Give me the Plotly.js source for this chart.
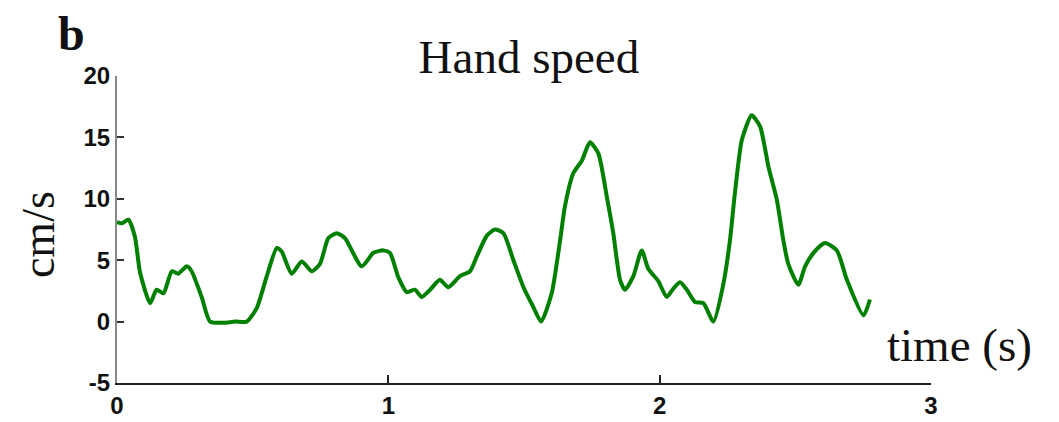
<!DOCTYPE html>
<html>
<head>
<meta charset="utf-8">
<script src="https://cdn.plot.ly/plotly-3.0.1.min.js"></script>
<style>
html,body{margin:0;padding:0;background:#fff;}
#chart{width:1059px;height:422px;}
</style>
</head>
<body>
<div id="chart"></div>
<script>
// Time (s) and hand speed (cm/s)
const timeS = [0.000,0.018,0.042,0.066,0.085,0.122,0.146,0.171,0.202,0.226,0.257,0.275,0.312,0.343,0.392,0.435,0.478,0.515,0.552,0.589,0.607,0.644,0.681,0.718,0.748,0.779,0.810,0.840,0.902,0.945,0.982,1.006,1.037,1.068,1.098,1.123,1.154,1.190,1.221,1.264,1.301,1.326,1.363,1.393,1.424,1.461,1.498,1.534,1.563,1.602,1.633,1.651,1.682,1.713,1.743,1.774,1.805,1.829,1.854,1.872,1.903,1.934,1.958,1.995,2.026,2.051,2.075,2.100,2.130,2.161,2.198,2.235,2.259,2.277,2.303,2.339,2.370,2.401,2.432,2.456,2.474,2.511,2.536,2.567,2.609,2.653,2.690,2.751,2.775];
const speed = [8.1,8.0,8.3,6.9,4.0,1.5,2.6,2.3,4.1,3.9,4.5,4.1,2.0,0.0,-0.1,0.0,0.0,1.1,3.7,6.0,5.7,3.9,4.9,4.1,4.7,6.8,7.2,6.8,4.5,5.6,5.8,5.6,3.6,2.4,2.6,2.0,2.6,3.4,2.8,3.7,4.1,5.3,7.0,7.5,7.2,5.0,2.8,1.2,0.0,2.3,6.6,9.4,12.1,13.1,14.6,13.7,10.2,7.2,3.4,2.6,3.7,5.8,4.3,3.3,2.0,2.7,3.2,2.6,1.6,1.5,0.0,3.1,6.6,10.4,14.8,16.8,15.9,12.6,9.9,6.6,4.7,3.0,4.5,5.6,6.4,5.8,3.4,0.5,1.8];
const xTicks = [0,1,2,3];
const yTicks = [-5,0,5,10,15,20];

const serif = 'Liberation Serif, Times New Roman, serif';
const sans = 'Liberation Sans, Arial, sans-serif';

const trace = {
  x: timeS, y: speed, type: 'scatter', mode: 'lines',
  line: {color: 'rgb(0,128,0)', width: 4, shape: 'spline', smoothing: 0.6},
  hoverinfo: 'skip'
};

const layout = {
  width: 1059, height: 422,
  margin: {l: 117, r: 128, t: 76, b: 39},
  paper_bgcolor: '#fff', plot_bgcolor: '#fff',
  showlegend: false,
  title: {
    text: 'Hand speed',
    font: {family: serif, size: 47, color: '#111'},
    xref: 'paper', x: 0.506, xanchor: 'center',
    yref: 'container', y: 0.865, yanchor: 'middle'
  },
  xaxis: {
    range: [0, 3], tickvals: xTicks, ticktext: xTicks.map(String),
    showline: true, linecolor: '#222', linewidth: 2,
    ticks: 'inside', ticklen: 8, tickwidth: 2, tickcolor: '#222',
    showgrid: false, zeroline: false,
    tickfont: {family: sans, size: 24, color: '#111', weight: 'bold'}
  },
  yaxis: {
    range: [-5, 20], tickvals: yTicks, ticktext: yTicks.map(String),
    showline: true, linecolor: '#888', linewidth: 2,
    ticks: 'inside', ticklen: 7, tickwidth: 2, tickcolor: '#333',
    showgrid: false, zeroline: false,
    tickfont: {family: sans, size: 24, color: '#111', weight: 'bold'}
  },
  annotations: [
    {text: 'b', xref: 'paper', yref: 'paper', x: -0.0565, y: 1.139,
     xanchor: 'center', yanchor: 'middle', showarrow: false,
     font: {family: serif, size: 48, color: '#111', weight: 'bold'}},
    {text: 'cm/s', xref: 'paper', yref: 'paper', x: -0.097, y: 0.482,
     xanchor: 'center', yanchor: 'middle', showarrow: false, textangle: -90,
     font: {family: serif, size: 46, color: '#111'}},
    {text: 'time (s)', xref: 'paper', yref: 'paper', x: 1.035, y: 0.125,
     xanchor: 'center', yanchor: 'middle', showarrow: false,
     font: {family: serif, size: 47, color: '#111'}}
  ]
};

Plotly.newPlot('chart', [trace], layout, {staticPlot: true, displayModeBar: false});
</script>
</body>
</html>
